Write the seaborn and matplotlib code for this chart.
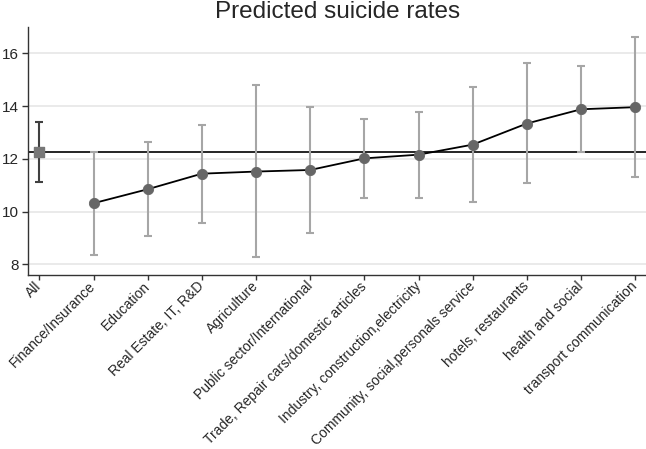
import numpy as np
import pandas as pd
import seaborn as sns
import matplotlib.pyplot as plt

# predicted rates per sector
sectors = ['Finance/Insurance', 'Education', 'Real Estate, IT, R&D', 'Agriculture',
           'Public sector/International', 'Trade, Repair cars/domestic articles',
           'Industry, construction,electricity', 'Community, social,personals service',
           'hotels, restaurants', 'health and social', 'transport communication']
rate = [10.32, 10.85, 11.44, 11.52, 11.58, 12.02, 12.16, 12.54, 13.34, 13.88, 13.96]
ci_low = [8.37, 9.09, 9.58, 8.27, 9.19, 10.53, 10.53, 10.37, 11.07, 12.25, 11.32]
ci_high = [12.26, 12.63, 13.29, 14.79, 13.98, 13.52, 13.77, 14.72, 15.65, 15.52, 16.60]

# overall estimate
all_rate = 12.25
all_low = 11.13
all_high = 13.38

labels = ['All'] + sectors

df = pd.DataFrame({'pos': np.arange(1, len(sectors) + 1), 'rate': rate,
                   'lo': ci_low, 'hi': ci_high})

sns.set_style('white')
plt.rcParams['font.family'] = ['Liberation Sans', 'DejaVu Sans']

fig = plt.figure(figsize=(6.46, 4.49), dpi=100)
ax = fig.add_axes([0.0433, 0.3875, 0.9567, 0.5525])

for y in [8, 10, 12, 14, 16]:
    ax.axhline(y, color='#e6e6e6', lw=1.2, zorder=0)

ax.axhline(all_rate, color='black', lw=1.2, zorder=1)

ax.errorbar(df['pos'], df['rate'], yerr=[df['rate'] - df['lo'], df['hi'] - df['rate']],
            fmt='none', ecolor='#a6a6a6', elinewidth=1.5, capsize=3.2, capthick=1.5, zorder=2)
ax.errorbar([0], [all_rate], yerr=[[all_rate - all_low], [all_high - all_rate]],
            fmt='none', ecolor='#404040', elinewidth=1.5, capsize=3.2, capthick=1.5, zorder=2)

sns.lineplot(data=df, x='pos', y='rate', color='black', lw=1.3, ax=ax, zorder=3)
sns.scatterplot(data=df, x='pos', y='rate', color='#666666', s=55, marker='o',
                edgecolor='#666666', ax=ax, zorder=4)
ax.scatter([0], [all_rate], marker='s', s=45, color='#777777', zorder=4)

ax.set_xlim(-0.21, 11.2)
ax.set_ylim(7.6, 17.0)
ax.set_yticks([8, 10, 12, 14, 16])
ax.set_xticks(range(len(labels)))
ax.set_xticklabels(labels, rotation=45, ha='right', va='center', rotation_mode='anchor', fontsize=10)
ax.tick_params(axis='y', labelsize=11, length=4.3, width=1, pad=2.2, direction='out', left=True, color='#333333')
ax.tick_params(axis='x', length=3.6, width=1, pad=3, direction='out', bottom=True, color='#333333')
ax.set_xlabel('')
ax.set_ylabel('')
fig.text(0.522, 1 - 18 / 449, 'Predicted suicide rates', fontsize=17.5, ha='center', va='baseline')

for side in ['top', 'right']:
    ax.spines[side].set_visible(False)
for side in ['left', 'bottom']:
    ax.spines[side].set_color('#333333')
    ax.spines[side].set_linewidth(1)

fig.savefig('out.png', dpi=100)
